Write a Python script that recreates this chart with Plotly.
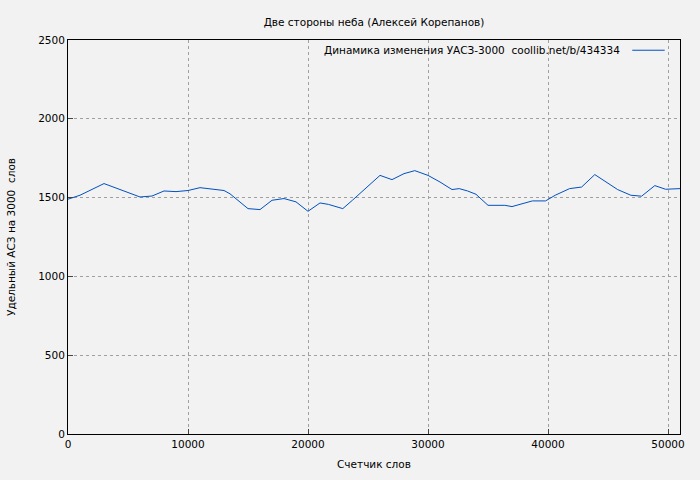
import plotly.graph_objects as go

words = [0,1000,3000,6000,7000,8000,9000,10000,11000,12000,13000,13500,15000,16000,17000,18000,19000,20000,21000,21700,22900,23700,26000,27000,28000,28900,30000,31000,32000,32600,33300,34000,35000,36400,37000,38700,39800,40600,41800,42800,43900,45800,46900,47800,48900,49800,51000]
vals = [1490,1515,1589,1504,1510,1542,1538,1545,1563,1555,1545,1524,1430,1424,1483,1494,1473,1413,1466,1457,1430,1483,1641,1614,1652,1671,1641,1599,1551,1557,1542,1521,1451,1451,1443,1479,1479,1515,1557,1567,1646,1551,1515,1509,1576,1553,1557]
legend_text = "Динамика изменения УАСЗ-3000  coollib.net/b/434334"

fig = go.Figure()
fig.add_trace(go.Scatter(x=words, y=vals, mode="lines", line=dict(color="#0050c0", width=1), showlegend=False))
ax = dict(showline=True, linecolor="black", linewidth=1, mirror=True, ticks="inside", ticklen=5,
          gridcolor="#a0a0a0", griddash="dot", gridwidth=1, zeroline=False, automargin=False,
          tickformat="d", tickfont=dict(size=10.5, color="black"))
fig.update_layout(
    width=700, height=480, paper_bgcolor="#f2f2f2", plot_bgcolor="#f2f2f2",
    margin=dict(l=68, r=20, t=40, b=46),
    font=dict(family="DejaVu Sans", size=10.5, color="black"),
    title=dict(text="Две стороны неба (Алексей Корепанов)", x=0.5, xref="paper", y=0.962, xanchor="center", font=dict(size=10.5)),
    xaxis=dict(ax, range=[0,51000], dtick=10000, title=dict(text="Счетчик слов", standoff=12, font=dict(size=10.5))),
    yaxis=dict(ax, range=[0,2500], dtick=500, title=dict(text="Удельный АСЗ на 3000  слов", standoff=20, font=dict(size=10.5))),
    annotations=[dict(text=legend_text, xref="paper", yref="paper", x=0.906, y=0.974,
                      xanchor="right", yanchor="middle", showarrow=False, font=dict(size=10.5))],
    shapes=[dict(type="line", xref="paper", yref="paper", x0=0.922, x1=0.975, y0=0.974, y1=0.974,
                 line=dict(color="#0050c0", width=1))],
)
fig.write_html("out.html", config={"displayModeBar": False})
with open("out.html", encoding="utf-8") as f:
    html = f.read()
html = html.replace("<head>", "<head><style>body{margin:0;background:#f2f2f2;}</style>", 1)
with open("out.html", "w", encoding="utf-8") as f:
    f.write(html)
